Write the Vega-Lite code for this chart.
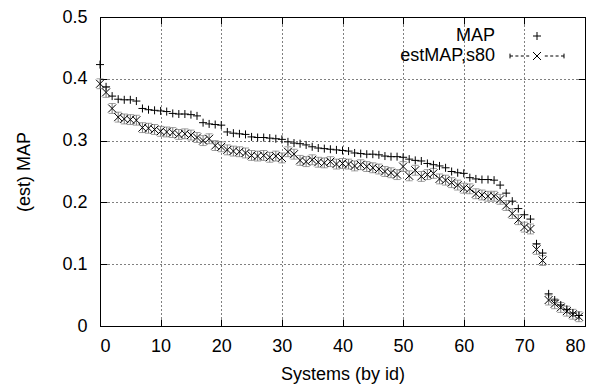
{
  "$schema": "https://vega.github.io/schema/vega-lite/v6.json",
  "width": 485,
  "height": 309,
  "autosize": "none",
  "padding": {"left": 100, "top": 17, "right": 23, "bottom": 63},
  "config": {
    "view": {"stroke": "black", "strokeWidth": 1},
    "font": "Liberation Sans",
    "axis": {"labelFont": "Liberation Sans", "titleFont": "Liberation Sans", "labelFontSize": 18, "titleFontSize": 18, "titleFontWeight": "normal", "labelColor": "black", "titleColor": "black", "domainColor": "black", "tickColor": "black", "gridColor": "black", "gridDash": [1, 3], "gridOpacity": 1, "tickSize": -7}
  },
  "data": {"values": [
    {"id":0,"s":"MAP","v":0.423},{"id":1,"s":"MAP","v":0.387},{"id":2,"s":"MAP","v":0.372},{"id":3,"s":"MAP","v":0.367},{"id":4,"s":"MAP","v":0.366},{"id":5,"s":"MAP","v":0.366},{"id":6,"s":"MAP","v":0.364},{"id":7,"s":"MAP","v":0.352},{"id":8,"s":"MAP","v":0.350},{"id":9,"s":"MAP","v":0.349},
    {"id":10,"s":"MAP","v":0.348},{"id":11,"s":"MAP","v":0.347},{"id":12,"s":"MAP","v":0.344},{"id":13,"s":"MAP","v":0.343},{"id":14,"s":"MAP","v":0.343},{"id":15,"s":"MAP","v":0.342},{"id":16,"s":"MAP","v":0.340},{"id":17,"s":"MAP","v":0.329},{"id":18,"s":"MAP","v":0.327},{"id":19,"s":"MAP","v":0.326},
    {"id":20,"s":"MAP","v":0.325},{"id":21,"s":"MAP","v":0.314},{"id":22,"s":"MAP","v":0.312},{"id":23,"s":"MAP","v":0.311},{"id":24,"s":"MAP","v":0.310},{"id":25,"s":"MAP","v":0.306},{"id":26,"s":"MAP","v":0.305},{"id":27,"s":"MAP","v":0.305},{"id":28,"s":"MAP","v":0.304},{"id":29,"s":"MAP","v":0.303},
    {"id":30,"s":"MAP","v":0.302},{"id":31,"s":"MAP","v":0.298},{"id":32,"s":"MAP","v":0.296},{"id":33,"s":"MAP","v":0.295},{"id":34,"s":"MAP","v":0.293},{"id":35,"s":"MAP","v":0.290},{"id":36,"s":"MAP","v":0.288},{"id":37,"s":"MAP","v":0.287},{"id":38,"s":"MAP","v":0.286},{"id":39,"s":"MAP","v":0.285},
    {"id":40,"s":"MAP","v":0.284},{"id":41,"s":"MAP","v":0.283},{"id":42,"s":"MAP","v":0.280},{"id":43,"s":"MAP","v":0.279},{"id":44,"s":"MAP","v":0.278},{"id":45,"s":"MAP","v":0.278},{"id":46,"s":"MAP","v":0.277},{"id":47,"s":"MAP","v":0.275},{"id":48,"s":"MAP","v":0.274},{"id":49,"s":"MAP","v":0.274},
    {"id":50,"s":"MAP","v":0.273},{"id":51,"s":"MAP","v":0.270},{"id":52,"s":"MAP","v":0.268},{"id":53,"s":"MAP","v":0.267},{"id":54,"s":"MAP","v":0.263},{"id":55,"s":"MAP","v":0.261},{"id":56,"s":"MAP","v":0.259},{"id":57,"s":"MAP","v":0.256},{"id":58,"s":"MAP","v":0.250},{"id":59,"s":"MAP","v":0.248},
    {"id":60,"s":"MAP","v":0.247},{"id":61,"s":"MAP","v":0.240},{"id":62,"s":"MAP","v":0.238},{"id":63,"s":"MAP","v":0.237},{"id":64,"s":"MAP","v":0.237},{"id":65,"s":"MAP","v":0.236},{"id":66,"s":"MAP","v":0.228},{"id":67,"s":"MAP","v":0.215},{"id":68,"s":"MAP","v":0.202},{"id":69,"s":"MAP","v":0.190},
    {"id":70,"s":"MAP","v":0.180},{"id":71,"s":"MAP","v":0.173},{"id":72,"s":"MAP","v":0.133},{"id":73,"s":"MAP","v":0.118},{"id":74,"s":"MAP","v":0.052},{"id":75,"s":"MAP","v":0.042},{"id":76,"s":"MAP","v":0.034},{"id":77,"s":"MAP","v":0.027},{"id":78,"s":"MAP","v":0.021},{"id":79,"s":"MAP","v":0.017},
    {"id":0,"s":"estMAP,s80","v":0.392,"e":0.008},{"id":1,"s":"estMAP,s80","v":0.378,"e":0.008},{"id":2,"s":"estMAP,s80","v":0.352,"e":0.008},{"id":3,"s":"estMAP,s80","v":0.338,"e":0.008},{"id":4,"s":"estMAP,s80","v":0.335,"e":0.008},{"id":5,"s":"estMAP,s80","v":0.334,"e":0.008},{"id":6,"s":"estMAP,s80","v":0.333,"e":0.008},{"id":7,"s":"estMAP,s80","v":0.321,"e":0.008},{"id":8,"s":"estMAP,s80","v":0.320,"e":0.008},{"id":9,"s":"estMAP,s80","v":0.318,"e":0.008},
    {"id":10,"s":"estMAP,s80","v":0.315,"e":0.008},{"id":11,"s":"estMAP,s80","v":0.314,"e":0.008},{"id":12,"s":"estMAP,s80","v":0.313,"e":0.008},{"id":13,"s":"estMAP,s80","v":0.310,"e":0.008},{"id":14,"s":"estMAP,s80","v":0.311,"e":0.008},{"id":15,"s":"estMAP,s80","v":0.309,"e":0.008},{"id":16,"s":"estMAP,s80","v":0.305,"e":0.008},{"id":17,"s":"estMAP,s80","v":0.300,"e":0.008},{"id":18,"s":"estMAP,s80","v":0.303,"e":0.008},{"id":19,"s":"estMAP,s80","v":0.292,"e":0.008},
    {"id":20,"s":"estMAP,s80","v":0.290,"e":0.008},{"id":21,"s":"estMAP,s80","v":0.285,"e":0.008},{"id":22,"s":"estMAP,s80","v":0.283,"e":0.008},{"id":23,"s":"estMAP,s80","v":0.282,"e":0.008},{"id":24,"s":"estMAP,s80","v":0.280,"e":0.008},{"id":25,"s":"estMAP,s80","v":0.276,"e":0.008},{"id":26,"s":"estMAP,s80","v":0.275,"e":0.008},{"id":27,"s":"estMAP,s80","v":0.276,"e":0.008},{"id":28,"s":"estMAP,s80","v":0.273,"e":0.008},{"id":29,"s":"estMAP,s80","v":0.275,"e":0.008},
    {"id":30,"s":"estMAP,s80","v":0.272,"e":0.008},{"id":31,"s":"estMAP,s80","v":0.282,"e":0.008},{"id":32,"s":"estMAP,s80","v":0.278,"e":0.008},{"id":33,"s":"estMAP,s80","v":0.268,"e":0.008},{"id":34,"s":"estMAP,s80","v":0.266,"e":0.008},{"id":35,"s":"estMAP,s80","v":0.269,"e":0.008},{"id":36,"s":"estMAP,s80","v":0.265,"e":0.008},{"id":37,"s":"estMAP,s80","v":0.264,"e":0.008},{"id":38,"s":"estMAP,s80","v":0.266,"e":0.008},{"id":39,"s":"estMAP,s80","v":0.262,"e":0.008},
    {"id":40,"s":"estMAP,s80","v":0.263,"e":0.008},{"id":41,"s":"estMAP,s80","v":0.262,"e":0.008},{"id":42,"s":"estMAP,s80","v":0.259,"e":0.008},{"id":43,"s":"estMAP,s80","v":0.261,"e":0.008},{"id":44,"s":"estMAP,s80","v":0.258,"e":0.008},{"id":45,"s":"estMAP,s80","v":0.256,"e":0.008},{"id":46,"s":"estMAP,s80","v":0.254,"e":0.008},{"id":47,"s":"estMAP,s80","v":0.250,"e":0.008},{"id":48,"s":"estMAP,s80","v":0.248,"e":0.008},{"id":49,"s":"estMAP,s80","v":0.245,"e":0.008},
    {"id":50,"s":"estMAP,s80","v":0.258,"e":0.008},{"id":51,"s":"estMAP,s80","v":0.243,"e":0.008},{"id":52,"s":"estMAP,s80","v":0.252,"e":0.008},{"id":53,"s":"estMAP,s80","v":0.242,"e":0.008},{"id":54,"s":"estMAP,s80","v":0.245,"e":0.008},{"id":55,"s":"estMAP,s80","v":0.247,"e":0.008},{"id":56,"s":"estMAP,s80","v":0.238,"e":0.008},{"id":57,"s":"estMAP,s80","v":0.236,"e":0.008},{"id":58,"s":"estMAP,s80","v":0.232,"e":0.008},{"id":59,"s":"estMAP,s80","v":0.228,"e":0.008},
    {"id":60,"s":"estMAP,s80","v":0.223,"e":0.008},{"id":61,"s":"estMAP,s80","v":0.222,"e":0.008},{"id":62,"s":"estMAP,s80","v":0.214,"e":0.008},{"id":63,"s":"estMAP,s80","v":0.212,"e":0.008},{"id":64,"s":"estMAP,s80","v":0.210,"e":0.008},{"id":65,"s":"estMAP,s80","v":0.210,"e":0.008},{"id":66,"s":"estMAP,s80","v":0.205,"e":0.008},{"id":67,"s":"estMAP,s80","v":0.195,"e":0.008},{"id":68,"s":"estMAP,s80","v":0.182,"e":0.008},{"id":69,"s":"estMAP,s80","v":0.172,"e":0.008},
    {"id":70,"s":"estMAP,s80","v":0.160,"e":0.008},{"id":71,"s":"estMAP,s80","v":0.157,"e":0.008},{"id":72,"s":"estMAP,s80","v":0.124,"e":0.008},{"id":73,"s":"estMAP,s80","v":0.106,"e":0.008},{"id":74,"s":"estMAP,s80","v":0.042,"e":0.008},{"id":75,"s":"estMAP,s80","v":0.036,"e":0.008},{"id":76,"s":"estMAP,s80","v":0.030,"e":0.008},{"id":77,"s":"estMAP,s80","v":0.024,"e":0.008},{"id":78,"s":"estMAP,s80","v":0.019,"e":0.008},{"id":79,"s":"estMAP,s80","v":0.015,"e":0.008}
  ]},
  "layer": [
    {
      "transform": [{"filter": "datum.s == 'estMAP,s80'"}],
      "mark": {"type": "errorbar", "ticks": {"size": 7, "color": "#777777"}, "color": "#777777", "thickness": 1},
      "encoding": {
        "x": {"field": "id", "type": "quantitative", "scale": {"domain": [0, 80], "nice": false}, "axis": {"values": [0,10,20,30,40,50,60,70,80], "grid": true, "title": "Systems (by id)", "labelPadding": 18, "titlePadding": 10}},
        "y": {"field": "v", "type": "quantitative", "scale": {"domain": [0, 0.5], "nice": false}, "axis": {"values": [0,0.1,0.2,0.3,0.4,0.5], "grid": true, "title": "(est) MAP", "labelExpr": "datum.value == 0 ? '0' : format(datum.value, '.1f')", "labelPadding": 20, "titlePadding": 28}},
        "yError": {"field": "e"}
      }
    },
    {
      "mark": {"type": "point", "filled": false, "strokeWidth": 1, "size": 64, "color": "black", "opacity": 1},
      "encoding": {
        "x": {"field": "id", "type": "quantitative", "axis": null},
        "y": {"field": "v", "type": "quantitative", "axis": null},
        "shape": {"field": "s", "type": "nominal", "scale": {"domain": ["MAP", "estMAP,s80"], "range": ["M-1,0H1M0,-1V1", "M-1,-1L1,1M-1,1L1,-1"]}, "legend": null}
      }
    },
    {
      "mark": {"type": "point", "opacity": 0, "filled": false, "size": 64, "color": "black"},
      "encoding": {
        "x": {"field": "id", "type": "quantitative", "axis": {"orient": "top", "labels": false, "grid": false, "domain": false, "title": null, "values": [0,10,20,30,40,50,60,70,80]}},
        "y": {"field": "v", "type": "quantitative", "axis": {"orient": "right", "labels": false, "grid": false, "domain": false, "title": null, "values": [0,0.1,0.2,0.3,0.4,0.5]}},
        "shape": {"field": "s", "type": "nominal", "scale": {"domain": ["MAP", "estMAP,s80"], "range": ["M-1,0H1M0,-1V1", "M-6.75,-0.6V0.6M-6.75,0H-6M-5.4,0H-4.65M-4.05,0H-3.3M-2.7,0H-1.95M6.75,-0.6V0.6M6.75,0H6M5.4,0H4.65M4.05,0H3.3M2.7,0H1.95M-1,-1L1,1M-1,1L1,-1"]},
          "legend": {"title": null, "orient": "none", "legendX": 428, "legendY": 10, "padding": 0, "labelFont": "Liberation Sans", "labelFontSize": 18, "labelColor": "black", "symbolStrokeColor": "black", "symbolStrokeWidth": 1, "symbolSize": 64, "symbolOpacity": 1, "labelAlign": "right", "labelOffset": -51, "rowPadding": 2}}
      }
    }
  ],
  "resolve": {"axis": {"x": "independent", "y": "independent"}, "scale": {"shape": "independent"}}
}
